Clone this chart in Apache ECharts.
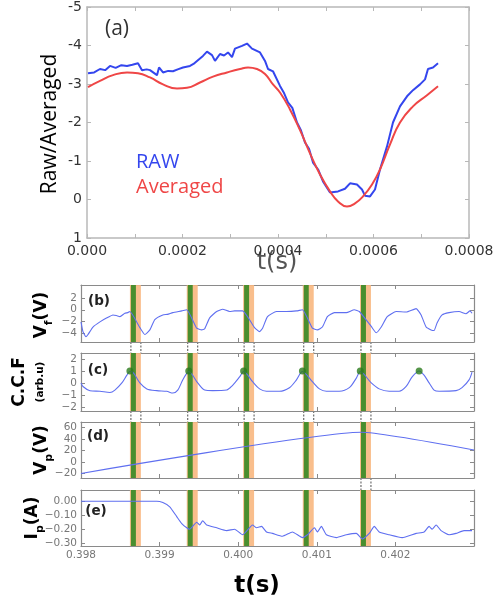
<!DOCTYPE html>
<html>
<head>
<meta charset="utf-8">
<script src="https://cdn.jsdelivr.net/npm/echarts@6/dist/echarts.min.js"></script>
<style>
html,body{margin:0;padding:0;background:#fff}
#chart{width:498px;height:607px}
</style>
</head>
<body>
<div id="chart"></div>
<script>
// ---- panel (a): raw and averaged signal, t in seconds ----
const rawSignal = [
  [0.021e-4,-3.28],[0.15e-4,-3.30],[0.272e-4,-3.39],[0.38e-4,-3.36],[0.482e-4,-3.47],
  [0.60e-4,-3.42],[0.72e-4,-3.49],[0.838e-4,-3.47],[0.95e-4,-3.50],[1.068e-4,-3.54],
  [1.152e-4,-3.36],[1.25e-4,-3.38],[1.319e-4,-3.36],[1.466e-4,-3.23],[1.508e-4,-3.43],
  [1.592e-4,-3.30],[1.70e-4,-3.34],[1.801e-4,-3.33],[1.90e-4,-3.38],[2.010e-4,-3.43],
  [2.157e-4,-3.47],[2.23e-4,-3.52],[2.304e-4,-3.60],[2.429e-4,-3.73],[2.513e-4,-3.84],
  [2.618e-4,-3.75],[2.681e-4,-3.60],[2.785e-4,-3.78],[2.87e-4,-3.74],[2.953e-4,-3.82],
  [3.037e-4,-3.70],[3.099e-4,-3.92],[3.246e-4,-3.99],[3.351e-4,-4.05],[3.455e-4,-3.92],
  [3.623e-4,-3.82],[3.728e-4,-3.60],[3.791e-4,-3.39],[3.895e-4,-3.33],[4.042e-4,-2.95],
  [4.12e-4,-2.78],[4.209e-4,-2.52],[4.30e-4,-2.38],[4.398e-4,-2.00],[4.48e-4,-1.80],
  [4.565e-4,-1.48],[4.65e-4,-1.32],[4.733e-4,-0.96],[4.84e-4,-0.78],[4.942e-4,-0.47],
  [5.089e-4,-0.18],[5.257e-4,-0.21],[5.403e-4,-0.28],[5.508e-4,-0.42],[5.654e-4,-0.39],
  [5.759e-4,-0.26],[5.822e-4,-0.10],[5.927e-4,-0.08],[6.031e-4,-0.26],[6.136e-4,-0.78],
  [6.283e-4,-1.38],[6.408e-4,-2.00],[6.555e-4,-2.42],[6.702e-4,-2.68],[6.827e-4,-2.84],
  [6.974e-4,-2.99],[7.079e-4,-3.12],[7.141e-4,-3.39],[7.246e-4,-3.43],[7.351e-4,-3.54]
];
const averagedSignal = [
  [0.021e-4,-2.92],[0.272e-4,-3.08],[0.545e-4,-3.23],[0.838e-4,-3.30],[1.068e-4,-3.28],
  [1.319e-4,-3.17],[1.592e-4,-2.99],[1.885e-4,-2.88],[2.094e-4,-2.90],[2.366e-4,-3.04],
  [2.639e-4,-3.19],[2.932e-4,-3.30],[3.204e-4,-3.39],[3.372e-4,-3.43],[3.560e-4,-3.39],
  [3.728e-4,-3.26],[3.895e-4,-2.99],[4.042e-4,-2.78],[4.251e-4,-2.34],[4.461e-4,-1.80],
  [4.670e-4,-1.20],[4.880e-4,-0.65],[5.089e-4,-0.21],[5.257e-4,0.05],[5.445e-4,0.18],
  [5.613e-4,0.10],[5.780e-4,-0.08],[5.969e-4,-0.39],[6.136e-4,-0.78],[6.346e-4,-1.43],
  [6.555e-4,-2.00],[6.827e-4,-2.42],[7.120e-4,-2.71],[7.351e-4,-2.94]
];
const ticksA_x = [0, 0.0002, 0.0004, 0.0006, 0.0008];
const ticksA_y = [-5, -4, -3, -2, -1, 0, 1];

// ---- panels (b)-(e): probe signals, t in seconds ----
const floatingPotential = [
  [0.398000,-2.1],[0.398025,-3.8],[0.398063,-4.7],[0.398089,-4.3],[0.398152,-3.0],
  [0.398241,-2.1],[0.398330,-1.4],[0.398406,-0.9],[0.398450,-1.0],[0.398495,-1.2],
  [0.398558,-0.6],[0.398596,-0.5],[0.398622,-0.3],[0.398749,-3.1],[0.398812,-4.3],
  [0.398876,-3.5],[0.398939,-1.7],[0.399041,-0.9],[0.399100,-0.8],[0.399168,-0.5],
  [0.399282,-0.2],[0.399345,0.0],[0.399472,-3.2],[0.399536,-3.5],[0.399574,-3.3],
  [0.399637,-1.4],[0.399726,-0.3],[0.399802,0.1],[0.399891,-0.3],[0.399954,-0.2],
  [0.400056,-0.2],[0.400208,-3.1],[0.400272,-3.8],[0.400310,-3.2],[0.400373,-1.2],
  [0.400487,-0.3],[0.400614,-0.3],[0.400741,-0.2],[0.400817,0.0],[0.400944,-3.2],
  [0.401008,-3.5],[0.401071,-3.0],[0.401135,-1.2],[0.401223,-0.5],[0.401376,-0.5],
  [0.401477,0.0],[0.401541,-0.3],[0.401693,-2.9],[0.401756,-4.0],[0.401820,-3.0],
  [0.401896,-1.2],[0.402010,-0.3],[0.402137,-0.4],[0.402264,0.2],[0.402327,-0.9],
  [0.402391,-3.0],[0.402454,-3.5],[0.402492,-3.6],[0.402530,-2.3],[0.402594,-0.9],
  [0.402683,-0.5],[0.402810,-0.3],[0.402898,-0.7],[0.402949,-0.2],[0.402975,-0.6]
];
const crossCorrelation = [
  [0.398000,0.0],[0.398025,-0.3],[0.398114,-0.65],[0.398241,-0.7],[0.398368,-0.8],
  [0.398431,-0.6],[0.398520,0.0],[0.398584,0.65],[0.398622,0.95],[0.398660,0.9],
  [0.398749,0.0],[0.398838,-0.5],[0.398964,-0.65],[0.399091,-0.7],[0.399168,-0.85],
  [0.399231,-0.6],[0.399294,0.25],[0.399345,0.8],[0.399371,0.95],[0.399485,0.0],
  [0.399574,-0.6],[0.399675,-0.65],[0.399853,-0.6],[0.399929,-0.2],[0.400018,0.5],
  [0.400069,0.95],[0.400183,0.1],[0.400272,-0.5],[0.400360,-0.7],[0.400525,-0.7],
  [0.400652,-0.4],[0.400741,0.25],[0.400817,0.95],[0.400944,0.1],[0.401033,-0.5],
  [0.401122,-0.7],[0.401287,-0.7],[0.401414,-0.4],[0.401503,0.4],[0.401553,0.95],
  [0.401693,0.0],[0.401794,-0.5],[0.401921,-0.7],[0.402048,-0.7],[0.402137,-0.3],
  [0.402213,0.5],[0.402302,1.0],[0.402365,0.65],[0.402429,0.0],[0.402492,-0.6],
  [0.402556,-0.7],[0.402772,-0.65],[0.402848,-0.4],[0.402937,0.25],[0.402975,0.9]
];
const ccfPeaks = [
  [0.398622,1.0],[0.399371,1.0],[0.400069,1.0],[0.400817,1.0],[0.401553,1.0],[0.402302,1.0]
];
const probeVoltage = [[0.398000,-20],[0.401562,52],[0.403000,21]];
const probeCurrent = [
  [0.398000,0.0],[0.398964,0.0],[0.399041,-0.01],[0.399129,-0.04],[0.399218,-0.11],
  [0.399282,-0.16],[0.399345,-0.19],[0.399383,-0.20],[0.399472,-0.15],[0.399510,-0.17],
  [0.399548,-0.14],[0.399599,-0.17],[0.399726,-0.19],[0.399853,-0.21],[0.399954,-0.20],
  [0.400056,-0.24],[0.400183,-0.17],[0.400234,-0.19],[0.400297,-0.18],[0.400360,-0.22],
  [0.400437,-0.23],[0.400563,-0.25],[0.400690,-0.22],[0.400817,-0.26],[0.400881,-0.24],
  [0.400970,-0.19],[0.401008,-0.22],[0.401058,-0.18],[0.401122,-0.24],[0.401249,-0.26],
  [0.401376,-0.24],[0.401503,-0.23],[0.401579,-0.27],[0.401668,-0.23],[0.401731,-0.18],
  [0.401794,-0.22],[0.401921,-0.24],[0.402086,-0.26],[0.402264,-0.23],[0.402365,-0.22],
  [0.402429,-0.18],[0.402467,-0.20],[0.402518,-0.17],[0.402581,-0.21],[0.402683,-0.24],
  [0.402772,-0.23],[0.402873,-0.21],[0.402975,-0.21]
];
const ticksT = [0.398, 0.399, 0.400, 0.401, 0.402, 0.403];
const ticksVf = [-4, -2, 0, 2];
const ticksCcf = [-2, -1, 0, 1, 2];
const ticksVp = [-20, 0, 20, 40, 60];
const ticksIp = [-0.30, -0.20, -0.10, 0.00];

// highlighted windows: start time, green width, orange extent
const bandStart = [0.398635, 0.399358, 0.400075, 0.400834, 0.401562];
const greenWidth = 0.0000635;
const orangeBefore = 0.0000127;
const orangeAfter = 0.000127;
// which gaps (b-c, c-d, d-e) show a connector box for each window
const connectorGaps = [[1,1,1,1,1],[1,1,1,1,1],[0,0,0,0,1]];

// ---- layout ----
const GA = {left: 87, top: 6, width: 382, height: 232};
const LOW_LEFT = 81, LOW_WIDTH = 393;
const LOW = [{top: 285, height: 57}, {top: 353, height: 58}, {top: 422, height: 56}, {top: 490, height: 56}];

const BLUE_A = '#3446ee', RED_A = '#ef4646', BLUE_L = '#5f6ff0';
const GREEN = '#3b8a26', ORANGE = '#f8b77f';

const grids = [Object.assign({}, GA)];
LOW.forEach(g => grids.push({left: LOW_LEFT, width: LOW_WIDTH, top: g.top, height: g.height}));

const xAxes = [], yAxes = [];
function frameX(gi, base, top, labelOpt, tickVals, frameColor, frameWidth) {
  xAxes.push(Object.assign({
    type: 'value', gridIndex: gi, position: 'bottom',
    axisLine: {show: true, onZero: false, lineStyle: {color: frameColor, width: frameWidth}},
    axisTick: {show: true, inside: true, length: 4, customValues: tickVals, lineStyle: {color: frameColor}},
    splitLine: {show: false}, axisLabel: labelOpt
  }, base));
  xAxes.push(Object.assign({
    type: 'value', gridIndex: gi, position: 'top',
    axisLine: {show: true, onZero: false, lineStyle: {color: frameColor, width: frameWidth}},
    axisTick: {show: true, inside: true, length: 4, customValues: tickVals, lineStyle: {color: frameColor}},
    splitLine: {show: false}, axisLabel: {show: false}
  }, base));
}
function frameY(gi, base, labelOpt, tickVals, frameColor, frameWidth) {
  yAxes.push(Object.assign({
    type: 'value', gridIndex: gi, position: 'left',
    axisLine: {show: true, onZero: false, lineStyle: {color: frameColor, width: frameWidth}},
    axisTick: {show: true, inside: true, length: 4, customValues: tickVals, lineStyle: {color: frameColor}},
    splitLine: {show: false}, axisLabel: labelOpt
  }, base));
  yAxes.push(Object.assign({
    type: 'value', gridIndex: gi, position: 'right',
    axisLine: {show: true, onZero: false, lineStyle: {color: frameColor, width: frameWidth}},
    axisTick: {show: true, inside: true, length: 4, customValues: tickVals, lineStyle: {color: frameColor}},
    splitLine: {show: false}, axisLabel: {show: false}
  }, base));
}

// panel (a)
frameX(0, {min: 0, max: 0.0008}, true, {
  show: true, customValues: ticksA_x, margin: 6, color: '#333', fontSize: 14, fontFamily: 'DejaVu Sans',
  formatter: v => v === 0 ? '0.000' : v.toFixed(4)
}, [0,0.0001,0.0002,0.0003,0.0004,0.0005,0.0006,0.0007,0.0008], '#b8b8b8', 1.5);
frameY(0, {min: -5, max: 1, inverse: true}, {
  show: true, customValues: ticksA_y, margin: 5, color: '#333', fontSize: 14, fontFamily: 'DejaVu Sans',
  formatter: v => String(v)
}, ticksA_y, '#b8b8b8', 1.5);

// panels (b)-(e)
const lowY = [
  {min: -5.6, max: 4.3, ticks: ticksVf, fmt: v => String(v).replace('-', '\u2212')},
  {min: -2.35, max: 2.5, ticks: ticksCcf, fmt: v => String(v).replace('-', '\u2212')},
  {min: -28, max: 70, ticks: ticksVp, fmt: v => String(v).replace('-', '\u2212')},
  {min: -0.32, max: 0.08, ticks: ticksIp, fmt: v => v.toFixed(2).replace('-', '\u2212')}
];
lowY.forEach((cfg, i) => {
  const gi = i + 1;
  frameX(gi, {min: 0.398, max: 0.403}, true, i === 3 ? {
    show: true, customValues: ticksT.slice(0, 5), margin: 4, color: '#777', fontSize: 10.5,
    fontFamily: 'DejaVu Sans', formatter: v => v.toFixed(3)
  } : {show: false}, ticksT, '#8a8a8a', 1.2);
  frameY(gi, {min: cfg.min, max: cfg.max}, {
    show: true, customValues: cfg.ticks, margin: 4, color: '#777', fontSize: 10.5,
    fontFamily: 'DejaVu Sans', formatter: cfg.fmt
  }, cfg.ticks, '#8a8a8a', 1.2);
});

const series = [
  {type: 'line', xAxisIndex: 0, yAxisIndex: 0, data: rawSignal, showSymbol: false,
   lineStyle: {color: BLUE_A, width: 2}, z: 3},
  {type: 'line', xAxisIndex: 0, yAxisIndex: 0, data: averagedSignal, showSymbol: false, smooth: 0.5,
   lineStyle: {color: RED_A, width: 2}, z: 3}
];
const lowData = [floatingPotential, crossCorrelation, probeVoltage, probeCurrent];
lowData.forEach((d, i) => {
  const ax = 2 * (i + 1);
  series.push({type: 'line', xAxisIndex: ax, yAxisIndex: ax, data: d, showSymbol: false,
    smooth: i === 1 ? 0.3 : 0.15, lineStyle: {color: BLUE_L, width: 1.1}, z: 2, silent: true});
  const areas = [];
  bandStart.forEach(s => {
    areas.push([{xAxis: s - orangeBefore, itemStyle: {color: ORANGE, opacity: 0.9}}, {xAxis: s + orangeAfter}]);
  });
  bandStart.forEach(s => {
    areas.push([{xAxis: s, itemStyle: {color: GREEN, opacity: 0.92}}, {xAxis: s + greenWidth}]);
  });
  series.push({type: 'line', xAxisIndex: ax, yAxisIndex: ax, data: [], z: 5, silent: true,
    markArea: {silent: true, data: areas}});
});
series.push({type: 'scatter', xAxisIndex: 4, yAxisIndex: 4, data: ccfPeaks, symbolSize: 7,
  itemStyle: {color: '#2b7a1c'}, z: 8, silent: true});

function rotText(x, y, text, rich) {
  return {type: 'text', x: x, y: y, rotation: Math.PI / 2, silent: true,
    style: {text: text, rich: rich, align: 'center', verticalAlign: 'middle'}};
}
function plainText(x, y, text, font, color, align) {
  return {type: 'text', x: x, y: y, silent: true,
    style: {text: text, font: font, fill: color, align: align || 'center', verticalAlign: 'middle'}};
}
const bold = (s) => ({fontSize: s, fontWeight: 'bold', fontFamily: 'DejaVu Sans', color: '#111'});
const subRich = {
  m: Object.assign(bold(17), {lineHeight: 26, verticalAlign: 'middle'}),
  s: Object.assign(bold(11), {lineHeight: 11, verticalAlign: 'bottom'})
};

const texts = [
  rotText(50, 124, '{t|Raw/Averaged}', {t: {fontSize: 21, fontFamily: 'Open Sans', color: '#555'}}),
  plainText(277, 263, 't(s)', '24px "DejaVu Sans"', '#555'),
  plainText(117, 29, '(a)', '21px "Open Sans"', '#333'),
  plainText(136, 162, 'RAW', '20px "Open Sans"', BLUE_A, 'left'),
  plainText(136, 187, 'Averaged', '20px "Open Sans"', RED_A, 'left'),
  plainText(99, 301, '(b)', 'bold 13.5px "DejaVu Sans"', '#222'),
  plainText(98, 370, '(c)', 'bold 13.5px "DejaVu Sans"', '#222'),
  plainText(98, 436, '(d)', 'bold 13.5px "DejaVu Sans"', '#222'),
  plainText(96, 511, '(e)', 'bold 13.5px "DejaVu Sans"', '#222'),
  rotText(42, 315, '{m|V}{s|f}{m|(V)}', subRich),
  rotText(20, 382, '{a|C.C.F}', {a: bold(17)}),
  rotText(40, 382, '{a|(arb.u)}', {a: bold(10.5)}),
  rotText(42, 450, '{m|V}{s|p}{m|(V)}', subRich),
  rotText(33, 518, '{m|I}{s|p}{m|(A)}', subRich),
  plainText(257, 586, 't(s)', 'bold 23px "DejaVu Sans"', '#000')
];

const chart = echarts.init(document.getElementById('chart'), null, {renderer: 'canvas'});
chart.setOption({
  animation: false,
  backgroundColor: '#fff',
  grid: grids,
  xAxis: xAxes,
  yAxis: yAxes,
  series: series,
  graphic: texts
});

// dashed connector boxes in the gaps between the stacked panels
const boxes = [];
connectorGaps.forEach((row, gapIdx) => {
  const upper = LOW[gapIdx], lower = LOW[gapIdx + 1];
  const y0 = upper.top + upper.height, y1 = lower.top;
  row.forEach((on, b) => {
    if (!on) return;
    const ax = 2 * (gapIdx + 1);
    const xa = chart.convertToPixel({xAxisIndex: ax}, bandStart[b]);
    const xb = chart.convertToPixel({xAxisIndex: ax}, bandStart[b] + orangeAfter);
    boxes.push({type: 'rect', silent: true, shape: {x: xa, y: y0 + 0.8, width: xb - xa, height: y1 - y0 - 1.6},
      style: {fill: '#fff'}});
    [xa, xb].forEach(xx => boxes.push({type: 'line', silent: true,
      shape: {x1: xx, y1: y0, x2: xx, y2: y1}, style: {stroke: '#222', lineWidth: 0.8, lineDash: [2, 1.5]}}));
  });
});
chart.setOption({graphic: texts.concat(boxes)});
</script>
</body>
</html>
